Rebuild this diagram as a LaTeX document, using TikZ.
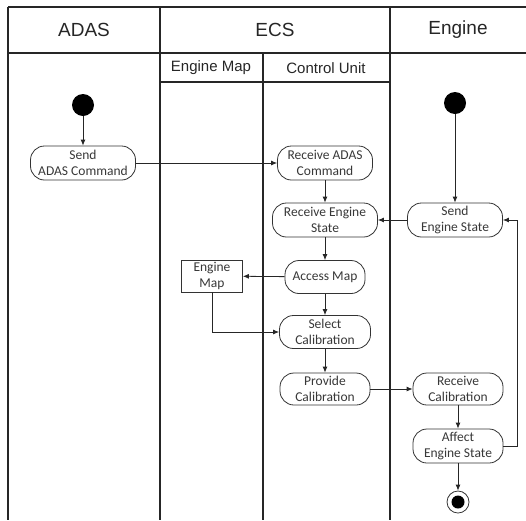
\documentclass[tikz,border=0pt]{standalone}
\usepackage{fontspec}
\setmainfont{Carlito}
\newfontfamily\headfont{Liberation Sans}
\usetikzlibrary{arrows.meta}
\tikzset{
    lane-line/.style = {draw=black!85, line width=1.6pt},
    lane-title/.style = {font=\headfont\fontsize{19}{22}\selectfont, text=black!85},
    lane-subtitle/.style = {font=\headfont\fontsize{15}{18}\selectfont, text=black!85},
    action-box/.style = {draw=black!80, fill=white, line width=0.8pt, rectangle, rounded corners=14pt, minimum height=34pt, inner sep=1pt, align=center, text=black!78, font=\fontsize{13.5}{16}\selectfont},
    object-box/.style = {draw=black!80, fill=white, line width=0.8pt, rectangle, minimum height=32pt, minimum width=61pt, inner sep=1pt, align=center, text=black!78, font=\fontsize{13.5}{16}\selectfont},
    start-dot/.style = {circle, fill=black, minimum size=22pt, inner sep=0pt},
    end-dot/.style = {circle, draw=black!80, line width=0.8pt, minimum size=22pt, inner sep=0pt,
        path picture={\fill (path picture bounding box.center) circle (6.5pt);}},
    flow/.style = {draw=black!85, line width=0.8pt, -{Latex[length=6pt,width=5pt]}},
}

\begin{document}
\begin{tikzpicture}[x=1pt, y=-1pt]
\useasboundingbox (0,0) rectangle (526,520);

% swimlanes
\draw[lane-line] (8,7) -- (526,7);
\draw[lane-line] (8,53) -- (526,53);
\draw[lane-line] (160,82) -- (390,82);
\draw[lane-line] (8,7) -- (8,520);
\draw[lane-line] (160,7) -- (160,520);
\draw[lane-line] (390,7) -- (390,520);
\draw[lane-line] (263,53) -- (263,520);

\node[lane-title] (adas-title) at (84,30) {ADAS};
\node[lane-title] (ecs-title) at (275,30) {ECS};
\node[lane-title] (engine-title) at (458,30) {Engine};
\node[lane-subtitle] (map-title) at (211,68) {Engine Map};
\node[lane-subtitle] (cu-title) at (326,68) {Control Unit};

% activities
\node[start-dot] (adas-start) at (83,105) {};
\node[action-box, minimum width=105pt] (send-adas) at (83,163) {Send\\ADAS Command};
\node[action-box, minimum width=95pt] (recv-adas) at (325,163) {Receive ADAS\\Command};
\node[action-box, minimum width=105pt] (recv-state) at (325,220) {Receive Engine\\State};
\node[start-dot] (engine-start) at (455,103) {};
\node[action-box, minimum width=95pt] (send-state) at (455,220) {Send\\Engine State};
\node[action-box, minimum width=80pt, minimum height=33pt] (access-map) at (325,277) {Access Map};
\node[object-box] (engine-map) at (212,276) {Engine\\Map};
\node[action-box, minimum width=91pt, minimum height=33pt] (select-cal) at (325,332) {Select\\Calibration};
\node[action-box, minimum width=90pt, minimum height=32pt] (provide-cal) at (325,389) {Provide\\Calibration};
\node[action-box, minimum width=90pt, minimum height=32pt] (recv-cal) at (458,389) {Receive\\Calibration};
\node[action-box, minimum width=90pt] (affect) at (458,446) {Affect\\Engine State};
\node[end-dot] (adas-end) at (458,502) {};
\coordinate (loop-back) at (517,0);

% flows
\draw[flow] (adas-start) -- (send-adas);
\draw[flow] (send-adas) -- (recv-adas);
\draw[flow] (recv-adas) -- (recv-state);
\draw[flow] (engine-start) -- (send-state);
\draw[flow] (send-state) -- (recv-state);
\draw[flow] (recv-state) -- (access-map);
\draw[flow] (access-map) -- (engine-map);
\draw[flow] (access-map) -- (select-cal);
\draw[flow] (engine-map.south) |- (select-cal.west);
\draw[flow] (select-cal) -- (provide-cal);
\draw[flow] (provide-cal) -- (recv-cal);
\draw[flow] (recv-cal) -- (affect);
\draw[flow] (affect) -- (adas-end);
\draw[flow] (affect.east) -- (affect.east -| loop-back) |- (send-state.east);
\end{tikzpicture}
\end{document}
